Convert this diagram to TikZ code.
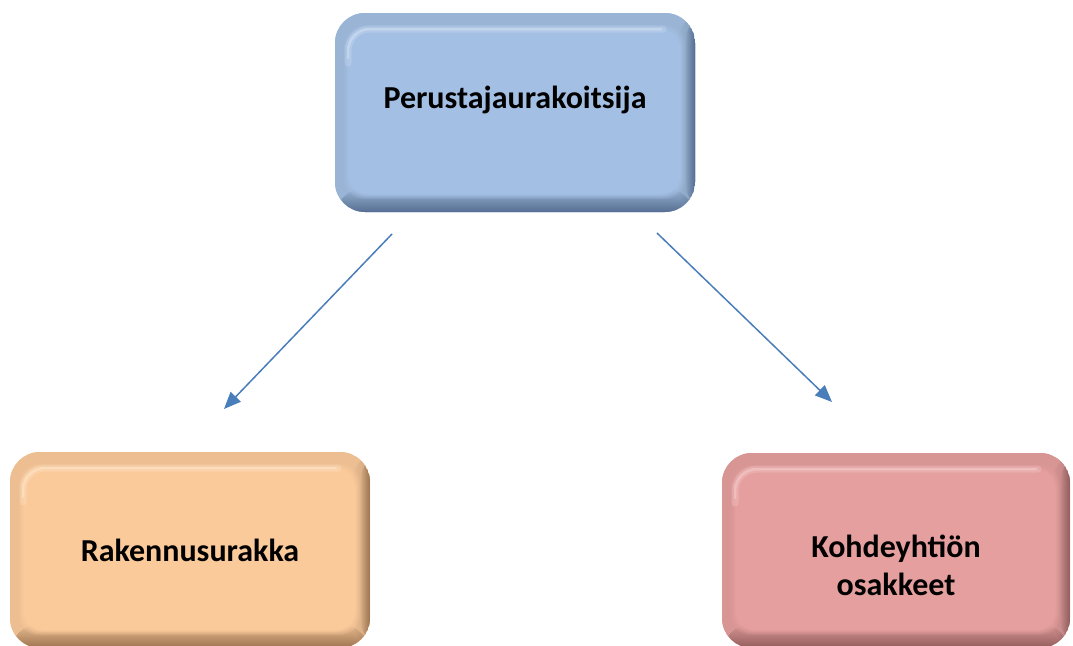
\documentclass[tikz,border=0pt]{standalone}
\usepackage{fontspec}
\setmainfont{Carlito}
\usetikzlibrary{arrows.meta,fadings}
\definecolor{bluface}{HTML}{A3BFE3}
\definecolor{bluhi}{HTML}{D2E1F4}
\definecolor{blulo}{HTML}{566F92}
\definecolor{orface}{HTML}{FBCA9B}
\definecolor{orhi}{HTML}{FEE6CC}
\definecolor{orlo}{HTML}{9C7450}
\definecolor{rdface}{HTML}{E59F9E}
\definecolor{rdhi}{HTML}{F5CFCE}
\definecolor{rdlo}{HTML}{935E5D}
\definecolor{arrowblue}{HTML}{4A7EBB}
\tikzfading[name=fadeR, left color=transparent!100, right color=transparent!0]
\tikzfading[name=fadeD, top color=transparent!100, bottom color=transparent!0]
\tikzset{
  bevel/.style n args={3}{
    rounded corners=30pt, draw=none, fill=#1,
    font=\bfseries\fontsize{32}{38}\selectfont, align=center,
    path picture={
      \coordinate (pnw) at (path picture bounding box.north west);
      \coordinate (pse) at (path picture bounding box.south east);
      \coordinate (pne) at (path picture bounding box.north east);
      \coordinate (psw) at (path picture bounding box.south west);
      \fill[#1!94!black] (pnw) rectangle (pse);
      \fill[#1!70!black!60!#1, path fading=fadeR] ([xshift=-18pt]pne) rectangle (pse);
      \fill[#3, path fading=fadeR] ([xshift=-10pt]pne) rectangle (pse);
      \fill[#3, path fading=fadeD] ([yshift=24pt]psw) rectangle (pse);
      \foreach \k/\o in {0/0.25,1.5/0.35,3/0.5,4.5/1}{
        \fill[#1, opacity=\o, rounded corners=20pt]
          ([xshift=9pt+\k pt, yshift=-12pt-\k pt]pnw)
          rectangle ([xshift=-10pt-\k pt, yshift=13pt+\k pt]pse);
      }
      \draw[#2, line width=7pt, opacity=.3, rounded corners=22pt, line cap=round]
        ([xshift=13pt,yshift=-50pt]pnw) |- ([xshift=-32pt,yshift=-16pt]pne);
      \draw[#2, line width=2.5pt, opacity=.55, rounded corners=22pt, line cap=round]
        ([xshift=13pt,yshift=-45pt]pnw) |- ([xshift=-34pt,yshift=-16pt]pne);
    }
  },
  lbl/.style={font=\bfseries\fontsize{32}{38}\selectfont, align=center},
  conn/.style={draw=arrowblue, line width=1.5pt,
    -{Triangle[length=17pt,width=14pt]}}
}
\begin{document}
\begin{tikzpicture}[x=1pt,y=-1pt]
\clip (0,0) rectangle (1073,645);
\fill[white] (0,0) rectangle (1073,645);
\node[bevel={bluface}{bluhi}{blulo}, minimum width=360pt, minimum height=199pt,
      text height=24pt, text depth=33pt] (top) at (515,112.5) {Perustajaurakoitsija};
\node[bevel={orface}{orhi}{orlo}, minimum width=360pt, minimum height=196pt,
      text height=30pt, text depth=8pt] (left) at (190,550) {Rakennusurakka};
\node[bevel={rdface}{rdhi}{rdlo}, minimum width=348pt, minimum height=195pt] (right) at (896,550.5) {};
\node[lbl] (righttxt) at ([yshift=-15pt]right.center) {Kohdeyhtiön\\osakkeet};
\coordinate (s1) at (392,234);
\coordinate (e1) at (224,409);
\coordinate (s2) at (657,233);
\coordinate (e2) at (832,402);
\draw[conn] (s1) -- (e1);
\draw[conn] (s2) -- (e2);
\end{tikzpicture}
\end{document}
